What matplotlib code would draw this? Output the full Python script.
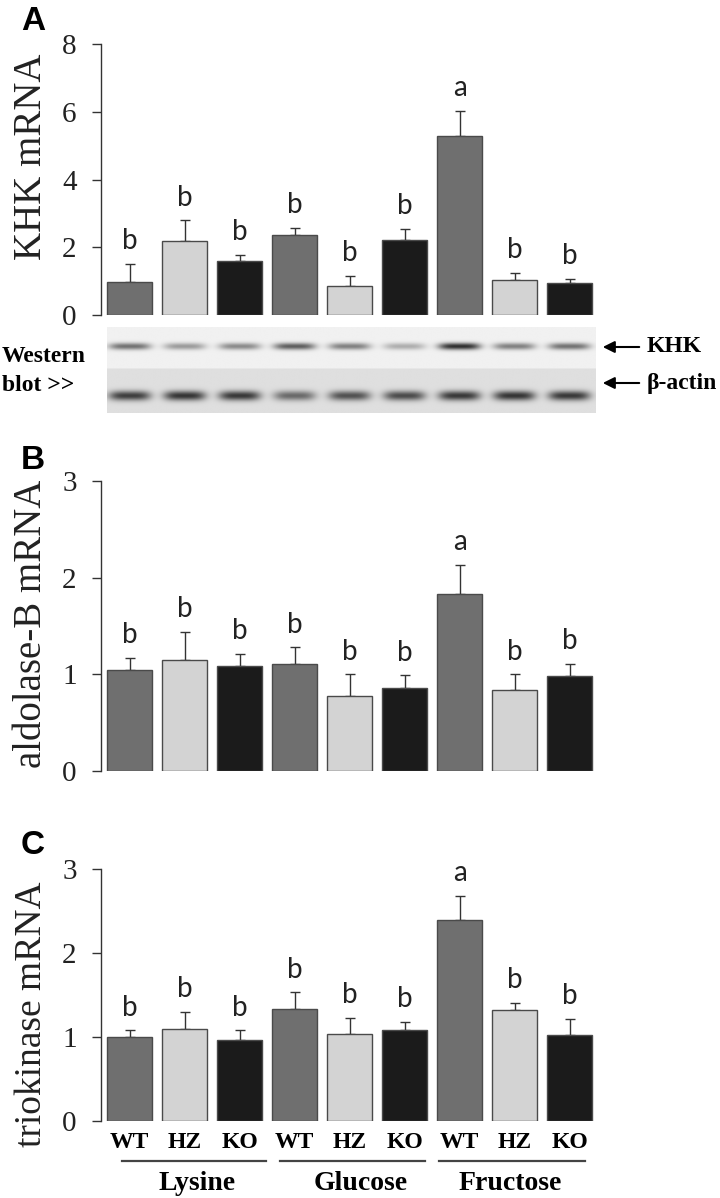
import numpy as np
import matplotlib
matplotlib.use("Agg")
import matplotlib.pyplot as plt
from matplotlib.transforms import blended_transform_factory

# ---- data ----
groups = ["Lysine", "Glucose", "Fructose"]
genotypes = ["WT", "HZ", "KO", "WT", "HZ", "KO", "WT", "HZ", "KO"]

khk_mean = [0.98, 2.19, 1.58, 2.36, 0.87, 2.21, 5.29, 1.04, 0.95]
khk_err = [0.52, 0.60, 0.20, 0.21, 0.28, 0.33, 0.73, 0.20, 0.12]
khk_sig = ["b", "b", "b", "b", "b", "b", "a", "b", "b"]

aldob_mean = [1.04, 1.15, 1.09, 1.11, 0.78, 0.86, 1.83, 0.84, 0.98]
aldob_err = [0.13, 0.29, 0.12, 0.17, 0.22, 0.13, 0.30, 0.16, 0.13]
aldob_sig = ["b", "b", "b", "b", "b", "b", "a", "b", "b"]

trio_mean = [1.00, 1.10, 0.97, 1.33, 1.03, 1.08, 2.39, 1.32, 1.02]
trio_err = [0.08, 0.20, 0.11, 0.20, 0.20, 0.10, 0.29, 0.09, 0.20]
trio_sig = ["b", "b", "b", "b", "b", "b", "a", "b", "b"]

# western blot band strength per lane (0 = none, 1 = black)
khk_band = [0.62, 0.42, 0.50, 0.72, 0.55, 0.33, 0.95, 0.55, 0.62]
actin_band = [0.85, 0.90, 0.88, 0.62, 0.75, 0.78, 0.88, 0.90, 0.88]

colors = ["#6f6f6f", "#d3d3d3", "#1b1b1b"] * 3
serif = "Liberation Serif"
letter_font = ["Liberation Sans Narrow", "Lato"]

W, H = 720, 1198
fig = plt.figure(figsize=(W / 100, H / 100), dpi=100)


def px_axes(l, t, r, b):
    return fig.add_axes([l / W, 1 - b / H, (r - l) / W, (b - t) / H])


def fx(x):
    return x / W


def fy(y):
    return 1 - y / H


XLIM = (-0.52, 8.5)
x = np.arange(len(genotypes))


def bar_panel(ax, mean, err, sig, ymax, step):
    ax.bar(x, mean, width=0.82, color=colors, edgecolor="#4a4a4a", linewidth=1, zorder=2)
    ax.errorbar(x, mean, yerr=[np.zeros(len(err)), err], fmt="none", ecolor="#333333",
                elinewidth=1, capsize=3.5, capthick=1, zorder=1)
    for xi, m, e, s in zip(x, mean, err, sig):
        ax.annotate(s, (xi, m + e), xytext=(0, 7), textcoords="offset points",
                    ha="center", va="bottom", fontsize=20, family=letter_font,
                    color="#222222")
    ax.set_xlim(*XLIM)
    ax.set_ylim(0, ymax)
    ax.set_yticks(np.arange(0, ymax + 0.01, step))
    ax.set_yticklabels([f"{v:g}" for v in np.arange(0, ymax + 0.01, step)],
                       family=serif, fontsize=21, color="#222222")
    ax.set_xticks([])
    for sp in ["top", "right", "bottom"]:
        ax.spines[sp].set_visible(False)
    ax.spines["left"].set_color("#333333")
    ax.spines["left"].set_linewidth(1)
    ax.tick_params(axis="y", direction="out", length=6.5, width=1, color="#333333", pad=11)


# ---- panel A ----
axA = px_axes(101, 44, 597, 315)
bar_panel(axA, khk_mean, khk_err, khk_sig, 8, 2)
fig.text(fx(32), fy(157), "KHK mRNA", rotation=90, ha="center", va="center",
         family=serif, fontsize=28, color="#222222")

# ---- western blot ----
axW = px_axes(101, 327, 597, 413)
axW.set_xlim(*XLIM)
axW.set_ylim(86, 0)
axW.axis("off")
bx0, bx1 = -0.41, 8.48
xs = np.linspace(bx0, bx1, 700)
ys = np.linspace(0, 86, 260)
XX, YY = np.meshgrid(xs, ys)
img = np.where(YY < 42, 0.945, 0.875)
for i in range(len(genotypes)):
    px = np.exp(-np.abs((XX - i) / 0.38) ** 4)
    k = khk_band[i] * np.exp(-((YY - 20) / 3.4) ** 2) * px
    a = actin_band[i] * np.exp(-((YY - 69) / 4.8) ** 2) * px
    img = img * (1 - 0.85 * k) * (1 - 0.85 * a)
axW.imshow(img, cmap="gray", vmin=0, vmax=1, extent=[bx0, bx1, 86, 0], aspect="auto",
           interpolation="bilinear")

fig.text(fx(2), fy(357), "Western", ha="left", va="center", family=serif,
         fontsize=17, fontweight="bold")
fig.text(fx(2), fy(385), "blot >>", ha="left", va="center", family=serif,
         fontsize=17, fontweight="bold")
for yy, lab in [(347, "KHK"), (383, "β-actin")]:
    fig.add_artist(matplotlib.patches.FancyArrowPatch(
        (fx(642), fy(yy)), (fx(600), fy(yy)), transform=fig.transFigure,
        arrowstyle="-|>,head_length=7,head_width=3.5", color="black", lw=1.5))
    fig.text(fx(647), fy(yy), lab, ha="left", va="center", family=serif,
             fontsize=17, fontweight="bold")

# ---- panel B ----
axB = px_axes(101, 481, 597, 771)
bar_panel(axB, aldob_mean, aldob_err, aldob_sig, 3, 1)
fig.text(fx(32), fy(624), "aldolase-B mRNA", rotation=90, ha="center", va="center",
         family=serif, fontsize=28, color="#222222")

# ---- panel C ----
axC = px_axes(101, 869, 597, 1121)
bar_panel(axC, trio_mean, trio_err, trio_sig, 3, 1)
fig.text(fx(32), fy(1014), "triokinase mRNA", rotation=90, ha="center", va="center",
         family=serif, fontsize=27, color="#222222")

tr = blended_transform_factory(axC.transData, fig.transFigure)
for xi, g in zip(x, genotypes):
    axC.text(xi, fy(1143), g, transform=tr, ha="center", va="center", family=serif,
             fontsize=17, fontweight="bold")
group_label_x = [1.22, 4.2, 6.93]
for gi, g in enumerate(groups):
    s = gi * 3
    axC.plot([s - 0.14 - 0.12 * gi, s + 2.48 - 0.1 * gi], [fy(1161), fy(1161)],
             transform=tr, color="#444444", lw=1.6, clip_on=False)
    axC.text(group_label_x[gi], fy(1183), g, transform=tr, ha="center", va="center",
             family=serif, fontsize=20, fontweight="bold")

# ---- panel letters ----
for lab, yy in [("A", 6), ("B", 445), ("C", 830)]:
    fig.text(fx(21), fy(yy), lab, ha="left", va="top", family="Liberation Sans",
             fontsize=24, fontweight="bold")

fig.savefig("out.png", dpi=100)
